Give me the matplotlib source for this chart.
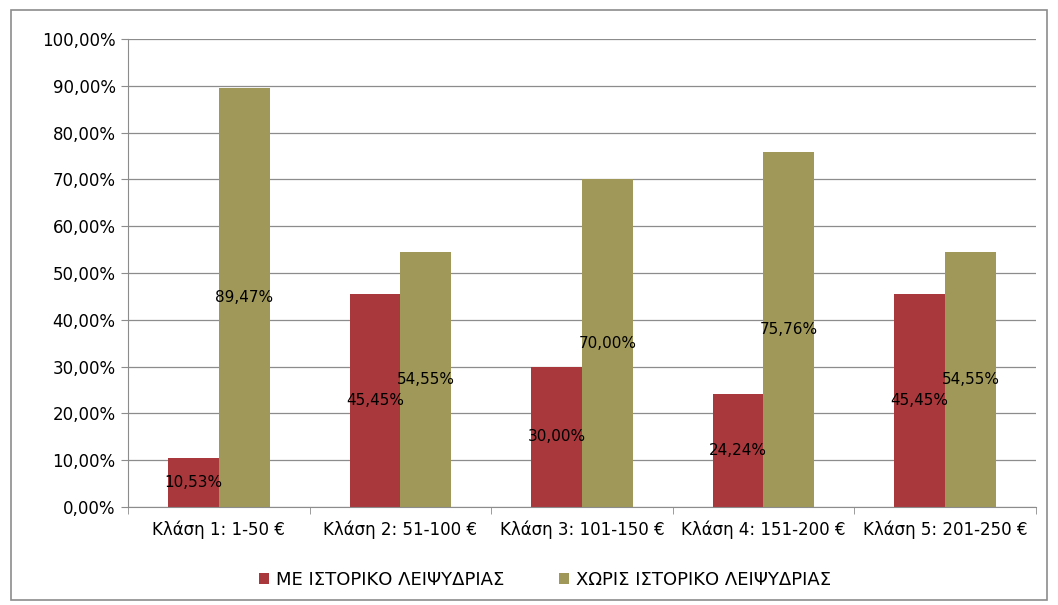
import matplotlib.pyplot as plt
import numpy as np
from matplotlib.patches import Rectangle

categories = ["Κλάση 1: 1-50 €", "Κλάση 2: 51-100 €", "Κλάση 3: 101-150 €",
              "Κλάση 4: 151-200 €", "Κλάση 5: 201-250 €"]
with_history = [10.53, 45.45, 30.00, 24.24, 45.45]
without_history = [89.47, 54.55, 70.00, 75.76, 54.55]
series_names = ["ΜΕ ΙΣΤΟΡΙΚΟ ΛΕΙΨΥΔΡΙΑΣ", "ΧΩΡΙΣ ΙΣΤΟΡΙΚΟ ΛΕΙΨΥΔΡΙΑΣ"]

red = "#a8383c"
olive = "#a09858"

fig = plt.figure(figsize=(10.58, 6.05), dpi=100)
fig.patches.append(Rectangle((0.010, 0.008), 0.980, 0.975, transform=fig.transFigure,
                             fill=False, edgecolor="#8c8c8c", linewidth=1.2))
ax = fig.add_axes([0.121, 0.162, 0.858, 0.7735])

x = np.arange(len(categories))
w = 0.28
b1 = ax.bar(x - w / 2, with_history, w, color=red, label=series_names[0], zorder=2)
b2 = ax.bar(x + w / 2, without_history, w, color=olive, label=series_names[1], zorder=2)

def pct(v):
    return f"{v:.2f}%".replace(".", ",")

for bars, vals in [(b1, with_history), (b2, without_history)]:
    for r, v in zip(bars, vals):
        ax.text(r.get_x() + r.get_width() / 2, v / 2, pct(v), ha="center", va="center",
                fontsize=11, color="black", zorder=3)

ax.set_xlim(-0.5, len(categories) - 0.5)
ax.set_ylim(0, 100)
ax.set_yticks(np.arange(0, 101, 10))
ax.set_yticklabels([pct(v) for v in np.arange(0, 101, 10)], fontsize=12)
ax.set_xticks(x)
ax.set_xticklabels(categories, fontsize=12)
ax.set_xticks(np.arange(-0.5, len(categories), 1), minor=True)
ax.tick_params(axis="x", which="major", length=0, pad=10)
ax.tick_params(axis="x", which="minor", length=5, color="#8c8c8c")
ax.tick_params(axis="y", length=5, color="#8c8c8c", pad=4)
ax.grid(axis="y", color="#8c8c8c", linewidth=0.9, zorder=0)
ax.set_axisbelow(True)
for s in ["top", "right"]:
    ax.spines[s].set_visible(False)
for s in ["left", "bottom"]:
    ax.spines[s].set_color("#8c8c8c")

fig.legend(loc="center", bbox_to_anchor=(0.515, 0.041), ncol=2, frameon=False,
           fontsize=13, handlelength=0.55, handleheight=0.55, handletextpad=0.4,
           columnspacing=3.0)

fig.savefig("out.png", dpi=100)
